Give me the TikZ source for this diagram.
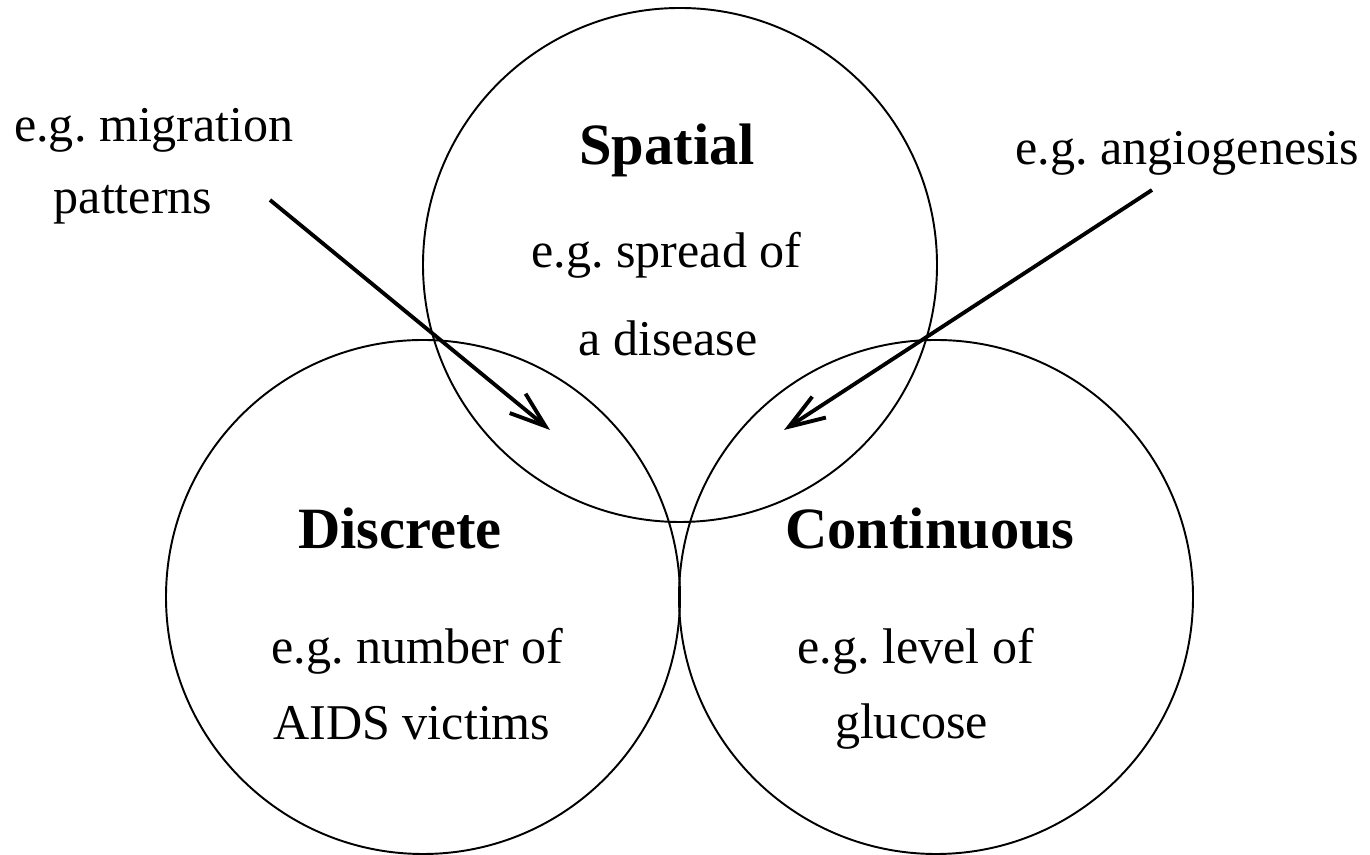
\documentclass[tikz,border=0pt]{standalone}
\usepackage{fontspec}
\setmainfont{Liberation Serif}
\usepackage{tikz}
\usetikzlibrary{arrows.meta}
\frenchspacing

\begin{document}
\begin{tikzpicture}[every node/.style={inner sep=0pt, anchor=base}]
\tikzset{
  setc/.style={draw, line width=1.1pt},
  ttl/.style={font=\fontsize{33.3}{40}\selectfont\bfseries},
  txt/.style={font=\fontsize{28.5}{34}\selectfont},
  ptr/.style={line width=2.2pt, -{Straight Barb[length=0.72cm, width=0.5cm]}}
}
\useasboundingbox (0,0) rectangle (27.4,17.1);
% the three sets
\draw[setc] (13.6,11.8) circle (5.14);
\draw[setc] (8.46,5.16) circle (5.14);
\draw[setc] (18.72,5.16) circle (5.14);
% set labels
\node[ttl] (spatial) at (13.34,13.80) {Spatial};
\node[txt] (spread) at (13.33,11.74) {e.g. spread of};
\node[txt] (disease) at (13.36,9.98) {a disease};
\node[ttl] (discrete) at (8.00,6.12) {Discrete};
\node[txt] (number) at (8.35,3.82) {e.g. number of};
\node[txt] (aids) at (8.24,2.30) {AIDS victims};
\node[ttl] (continuous) at (18.60,6.12) {Continuous};
\node[txt] (level) at (18.31,3.82) {e.g. level of};
\node[txt] (glucose) at (18.23,2.32) {glucose};
% overlap examples
\node[txt] (migration) at (3.08,14.26) {e.g. migration};
\node[txt] (patterns) at (2.66,12.82) {patterns};
\node[txt] (angio) at (23.75,13.80) {e.g. angiogenesis};
\coordinate (migtail) at (5.40,13.10);
\coordinate (migtip) at (11.00,8.50);
\coordinate (angtail) at (23.04,13.30);
\coordinate (angtip) at (15.68,8.50);
\draw[ptr] (migtail) -- (migtip);
\draw[ptr] (angtail) -- (angtip);
\end{tikzpicture}
\end{document}
